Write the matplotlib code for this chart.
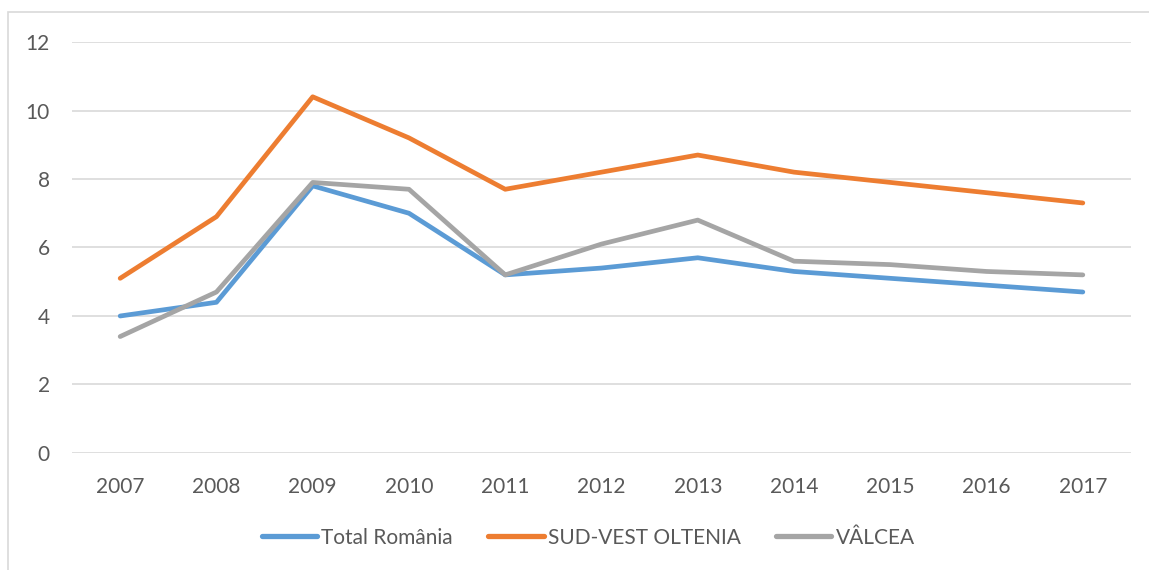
import matplotlib
matplotlib.use('Agg')
from matplotlib import pyplot as plt
from matplotlib.patches import Rectangle

plt.rcParams['font.family'] = ['Lato', 'DejaVu Sans']

years = ['2007', '2008', '2009', '2010', '2011', '2012', '2013', '2014', '2015', '2016', '2017']
total_romania = [4.0, 4.4, 7.8, 7.0, 5.2, 5.4, 5.7, 5.3, 5.1, 4.9, 4.7]
sud_vest_oltenia = [5.1, 6.9, 10.4, 9.2, 7.7, 8.2, 8.7, 8.2, 7.9, 7.6, 7.3]
valcea = [3.4, 4.7, 7.9, 7.7, 5.2, 6.1, 6.8, 5.6, 5.5, 5.3, 5.2]

series = [
    ('Total România', total_romania, '#5B9BD5'),
    ('SUD-VEST OLTENIA', sud_vest_oltenia, '#ED7D31'),
    ('VÂLCEA', valcea, '#A5A5A5'),
]

text_col = '#595959'
fs = 15

fig = plt.figure(figsize=(11.49, 5.70), dpi=100)
ax = fig.add_axes([0.0627, 0.2053, 0.9216, 0.7210])

x = list(range(len(years)))
for name, vals, col in series:
    ax.plot(x, vals, color=col, lw=3.4, label=name,
            solid_capstyle='round', solid_joinstyle='round')

ax.set_xlim(-0.5, len(years) - 0.5)
ax.set_ylim(0, 12)
ax.set_yticks(range(0, 13, 2))
ax.set_xticks(x)
ax.set_xticklabels(years)
ax.grid(axis='y', color='#D9D9D9', lw=1.2)
ax.set_axisbelow(True)
for s in ax.spines.values():
    s.set_visible(False)
ax.tick_params(length=0, labelsize=fs, labelcolor=text_col)
ax.tick_params(axis='x', pad=17)
ax.tick_params(axis='y', pad=16)

# chart frame
fig.patches.append(Rectangle((8 / 1149, -0.05), 1.2, 1 - 12 / 570 + 0.05,
                             transform=fig.transFigure, fill=False,
                             edgecolor='#D9D9D9', lw=1.2))

leg = fig.legend(loc='center', bbox_to_anchor=(0.512, 0.057), ncol=3,
                 frameon=False, fontsize=fs, handlelength=2.65,
                 handletextpad=0.2, columnspacing=1.7)
for t in leg.get_texts():
    t.set_color(text_col)
for h in leg.get_lines():
    h.set_linewidth(3.8)

fig.savefig('out.png', dpi=100)
